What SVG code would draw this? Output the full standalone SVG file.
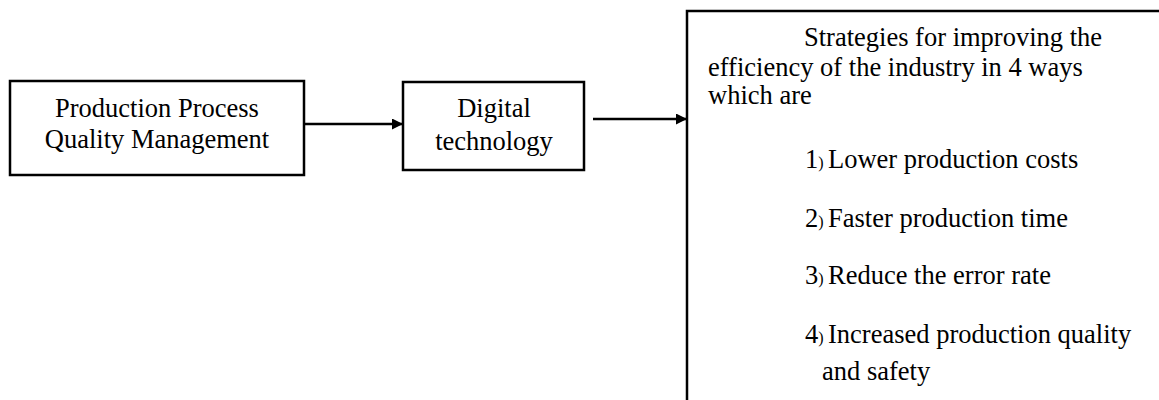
<svg xmlns="http://www.w3.org/2000/svg" width="1159" height="400" viewBox="0 0 1159 400">
  <style>
    .box { fill: #ffffff; stroke: #000000; stroke-width: 2.5; }
    .txt { font-family: "Liberation Serif", "Times New Roman", serif; font-size: 26.5px; fill: #000000; }
    .mid { text-anchor: middle; }
    .num { font-size: 16px; }
    .link { stroke: #000000; stroke-width: 2.5; fill: none; marker-end: url(#head); }
  </style>
  <defs>
    <marker id="head" viewBox="0 0 10 10" refX="10" refY="5" markerWidth="4.4" markerHeight="4.4" markerUnits="strokeWidth" orient="auto">
      <path d="M0,0 L10,5 L0,10 Z" fill="#000000"/>
    </marker>
  </defs>

  <rect width="1159" height="400" fill="#ffffff"/>

  <g id="quality-management">
    <rect class="box" x="10" y="81" width="294" height="94"/>
    <text class="txt mid" x="157" y="117">Production Process</text>
    <text class="txt mid" x="157" y="148">Quality Management</text>
  </g>

  <g id="digital-technology">
    <rect class="box" x="403" y="82" width="181" height="88"/>
    <text class="txt mid" x="494" y="117">Digital</text>
    <text class="txt mid" x="494" y="150">technology</text>
  </g>

  <g id="strategies">
    <rect class="box" x="687" y="11" width="480" height="400"/>
    <!-- heading paragraph: first line indented, tight line spacing -->
    <text class="txt" x="804" y="46">Strategies for improving the<tspan x="708" y="76">efficiency of the industry in 4 ways</tspan><tspan x="708" y="104">which are</tspan></text>
    <text class="txt" x="805" y="168">1<tspan class="num">)</tspan><tspan x="828">Lower production costs</tspan></text>
    <text class="txt" x="805" y="227">2<tspan class="num">)</tspan><tspan x="828">Faster production time</tspan></text>
    <text class="txt" x="805" y="284">3<tspan class="num">)</tspan><tspan x="828">Reduce the error rate</tspan></text>
    <text class="txt" x="805" y="343">4<tspan class="num">)</tspan><tspan x="828">Increased production quality</tspan><tspan x="822" y="380">and safety</tspan></text>
  </g>

  <g id="connectors">
    <line class="link" x1="305" y1="124" x2="403" y2="124"/>
    <line class="link" x1="593" y1="119" x2="687" y2="119"/>
  </g>
</svg>
